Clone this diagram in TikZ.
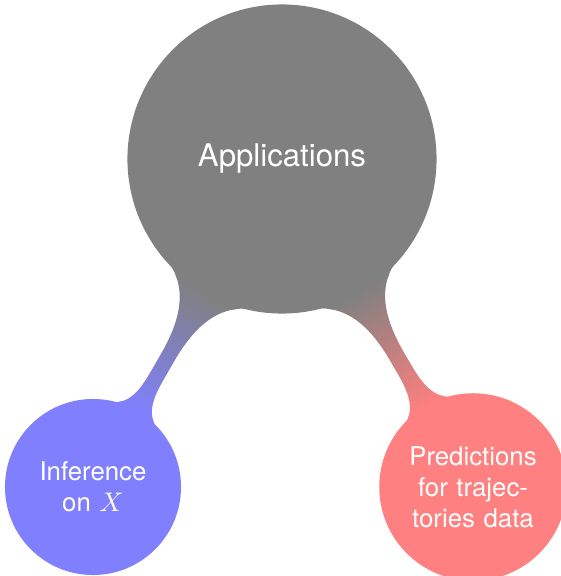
\documentclass[tikz,border=0pt]{standalone}
\usepackage{fontspec}
\setsansfont{TeX Gyre Heros}
\usetikzlibrary{mindmap}
\begin{document}
\begin{tikzpicture}[mindmap, x=0.013072cm, y=-0.013072cm,
  topic/.style={concept, concept color=black!50, text=white,
    font=\sffamily\fontsize{11.6}{14}\selectfont,
    minimum size=4cm, text width=3.5cm, inner sep=0pt, align=center},
  subtopic/.style={concept, text=white,
    font=\sffamily\fontsize{9.6}{11.6}\selectfont,
    text width=1.8cm, inner sep=0pt, align=center},
]
\useasboundingbox (0,0) rectangle (560,576);
% central concept
\node[topic] (app) at (282,159) {Applications};
% the two application areas
\node[subtopic, concept color=blue!50, minimum size=2.26cm] (inf) at (93,487)
  {Inference\\on $X$};
\node[subtopic, concept color=red!50, minimum size=2.41cm] (pred) at (473,487)
  {Predictions\\for trajec-\\tories data};
% shaded connection bars
\path (app) to[circle connection bar switch color=from (black!50) to (blue!50)] (inf);
\path (app) to[circle connection bar switch color=from (black!50) to (red!50)] (pred);
\end{tikzpicture}
\end{document}
